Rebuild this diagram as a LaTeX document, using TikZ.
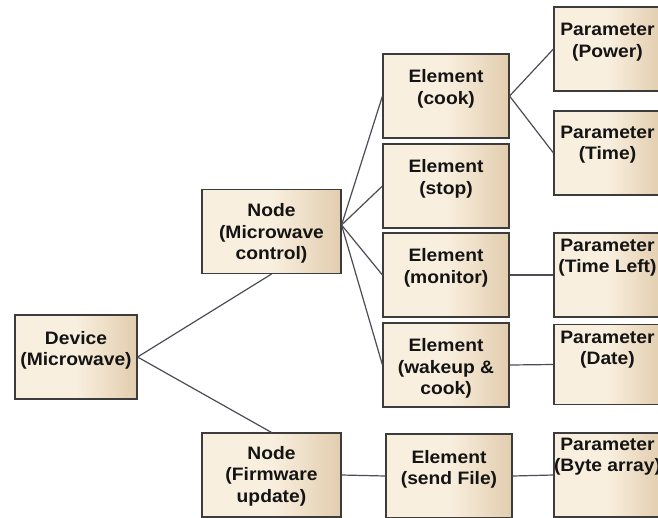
\documentclass[tikz,border=0pt]{standalone}
\usepackage{fontspec}
\newfontfamily\bxfont[FakeStretch=1.07]{Liberation Sans}
\definecolor{fillL}{HTML}{F9EFDF}
\definecolor{fillR}{HTML}{E2CDAE}
\definecolor{bord}{HTML}{3C3C3C}
\definecolor{wirec}{HTML}{4A4D55}
\definecolor{txt}{HTML}{141414}
% #1 height, #2 width, #3 top gap, #4 text
\newcommand\bxt[4][84pt]{\parbox[t][#1][t]{#2}{\vspace*{#3}\centering #4}}
\begin{document}
\begin{tikzpicture}[x=1pt,y=-1pt,
  box/.style={draw=bord, line width=1.1pt, inner sep=0pt,
    left color=fillL, right color=fillR, middle color=fillL,
    font={\bxfont\bfseries\fontsize{18pt}{21.5pt}\selectfont}, text=txt},
  wire/.style={draw=wirec, line width=1.2pt}]
\useasboundingbox (0,0) rectangle (658,517);
\fill[white] (0,0) rectangle (658,517);
\clip (0,0) rectangle (658,517);

% level 0
\node[box] (dev) at (76,357) {\bxt{122pt}{16pt}{Device\\(Microwave)}};
% level 1
\node[box] (nmc) at (271.5,231.5) {\bxt{139pt}{14pt}{Node\\(Microwave\\control)}};
\node[box] (nfw) at (271.5,475) {\bxt{139pt}{13pt}{Node\\(Firmware\\update)}};
% level 2
\node[box] (cook) at (446,96) {\bxt{126pt}{15.8pt}{Element\\(cook)}};
\node[box] (stop) at (446,186) {\bxt{126pt}{15.8pt}{Element\\(stop)}};
\node[box] (mon) at (446,275) {\bxt{126pt}{15.5pt}{Element\\(monitor)}};
\node[box] (wake) at (446,365) {\bxt{126pt}{15.5pt}{Element\\(wakeup \&\\cook)}};
\node[box] (send) at (449,476) {\bxt{126pt}{16pt}{Element\\(send File)}};
% level 3
\node[box] (pow) at (607.5,49) {\bxt{107pt}{16.5pt}{Parameter\\(Power)}};
\node[box] (time) at (607.5,153) {\bxt{107pt}{15pt}{Parameter\\(Time)}};
\node[box] (tleft) at (607.5,275) {\bxt{107pt}{6pt}{Parameter\\(Time Left)}};
\node[box] (date) at (607.5,364.5) {\bxt[80pt]{107pt}{6.5pt}{Parameter\\(Date)}};
\node[box] (byte) at (607.5,475) {\bxt{107pt}{5pt}{Parameter\\(Byte array)}};

% connectors
\coordinate (hub) at ([yshift=6.5pt]nmc.east);
\draw[wire] (dev.east) -- (nmc.south);
\draw[wire] (dev.east) -- (nfw.north);
\draw[wire] (hub) -- (cook.west);
\draw[wire] (hub) -- (stop.west);
\draw[wire] (hub) -- (mon.west);
\draw[wire] (hub) -- (wake.west);
\draw[wire] (cook.east) -- (pow.west);
\draw[wire] (cook.east) -- (time.west);
\draw[wire] (mon.east) -- (tleft.west);
\draw[wire] (wake.east) -- (date.west);
\draw[wire] (nfw.east) -- (send.west);
\draw[wire] (send.east) -- (byte.west);
\end{tikzpicture}
\end{document}
